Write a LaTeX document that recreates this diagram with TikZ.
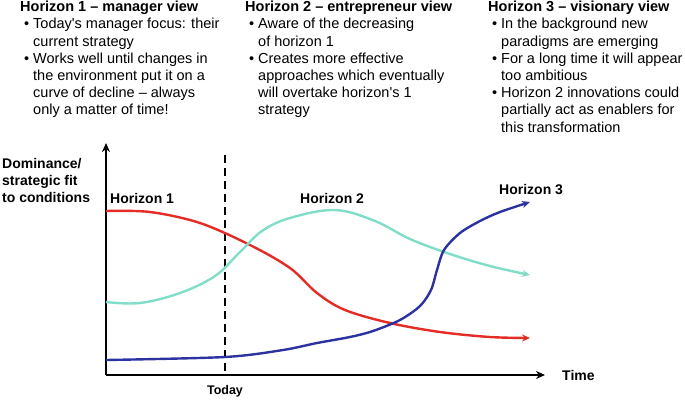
\documentclass[tikz,border=0pt]{standalone}
\usepackage{fontspec}
\setmainfont{Liberation Sans}
\usetikzlibrary{arrows.meta}
\definecolor{hred}{RGB}{228,44,36}
\definecolor{hteal}{RGB}{128,222,200}
\definecolor{hblue}{RGB}{44,50,160}
\tikzset{
  blk/.style={anchor=north west,align=left,inner sep=0pt,font=\fontsize{14.5}{17.2}\selectfont},
  lbl/.style={font=\fontsize{14}{17}\selectfont\bfseries,inner sep=0pt},
  curve/.style={line width=2.4pt,-{Stealth[length=8pt,width=7pt]}},
  axis/.style={line width=2pt,-{Stealth[length=9pt,width=8pt]}}
}
\newcommand{\bul}{\hspace*{4pt}\makebox[9pt][l]{\textbullet}}
\newcommand{\ind}{\hspace*{13pt}}
\newcommand{\apo}{\textquotesingle}
\begin{document}
\begin{tikzpicture}[x=1pt,y=-1pt]
\useasboundingbox (0,0) rectangle (685,400);
% text blocks
\node[blk] (b1) at (20,1) {\textbf{Horizon 1 – manager view}\\
\bul Today\apo s manager focus: their\\
\ind current strategy\\
\bul Works well until changes in\\
\ind the environment put it on a\\
\ind curve of decline – always\\
\ind only a matter of time!};
\node[blk] (b2) at (245,1) {\textbf{Horizon 2 – entrepreneur view}\\
\bul Aware of the decreasing\\
\ind of horizon 1\\
\bul Creates more effective\\
\ind approaches which eventually\\
\ind will overtake horizon\apo s 1\\
\ind strategy};
\node[blk] (b3) at (488,1) {\textbf{Horizon 3 – visionary view}\\
\bul In the background new\\
\ind paradigms are emerging\\
\bul For a long time it will appear\\
\ind too ambitious\\
\bul Horizon 2 innovations could\\
\ind partially act as enablers for\\
\ind this transformation};
% axes
\coordinate (o) at (106,375);
\coordinate (ytop) at (106,143);
\coordinate (xend) at (545,375);
\draw[axis] (o) -- (ytop);
\draw[axis] (o) -- (xend);
\node[lbl,anchor=west,align=left] (ylab) at (2,180) {Dominance/\\strategic fit\\to conditions};
\node[lbl,anchor=west] (tlab) at (562,375) {Time};
% today
\coordinate (dtop) at (225,155);
\coordinate (dbot) at (225,375);
\draw[line width=2pt,dash pattern=on 8pt off 5pt] (dtop) -- (dbot);
\node[lbl,font=\fontsize{12.5}{15}\selectfont\bfseries] (today) at (225,391) {Today};
% labels
\node[lbl,anchor=west] (h1) at (110,198) {Horizon 1};
\node[lbl,anchor=west] (h2) at (300,198) {Horizon 2};
\node[lbl,anchor=west] (h3) at (499,189) {Horizon 3};
% curves
\draw[curve,hred] plot[smooth,tension=0.55] coordinates {(106,211) (150,212) (200,223) (250,245) (290,268) (317,293) (345,310) (390,323) (440,332) (490,337) (530,338)};
\draw[curve,hteal] plot[smooth,tension=0.6] coordinates {(106,302) (140,303) (180,293) (215,276) (240,252) (262,231) (290,218) (335,210) (375,221) (410,239) (450,254) (490,266) (530,275)};
\draw[curve,hblue] plot[smooth,tension=0.5] coordinates {(106,360) (225,357) (283,350) (317,343) (350,337) (373,331) (400,320) (420,306) (431,290) (437,270) (444,250) (460,233) (480,221) (500,212) (530,202)};
\end{tikzpicture}
\end{document}
